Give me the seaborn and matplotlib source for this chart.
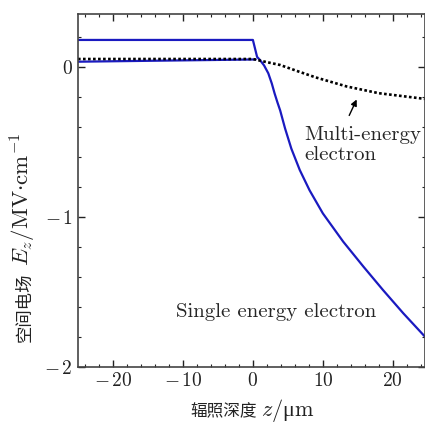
import matplotlib

matplotlib.use("Agg")

import matplotlib.pyplot as plt
import seaborn as sns
import pandas as pd
from matplotlib.ticker import MultipleLocator, FuncFormatter

# -----------------------------
# Plot Style
# -----------------------------
sns.set_theme(style="ticks")
plt.rcParams["font.family"] = ["cmr10", "DejaVu Serif"]
plt.rcParams["mathtext.fontset"] = "cm"
plt.rcParams["axes.unicode_minus"] = True

CJK = ["Noto Sans CJK SC", "DejaVu Serif"]

# -----------------------------
# Data
# -----------------------------
z_single = [-25, 0, 0.6, 1.0, 1.6, 2.2, 2.7, 3.1, 3.5, 3.9, 4.6, 5.5, 6.7,
            8.1, 10.0, 12.9, 15.8, 18.6, 21.5, 24.6]
e_single = [0.18, 0.18, 0.067, 0.047, 0.01, -0.042, -0.11, -0.176, -0.235,
            -0.29, -0.41, -0.545, -0.687, -0.822, -0.976, -1.164, -1.331,
            -1.487, -1.642, -1.798]

z_single_low = [-25, 0.4]
e_single_low = [0.035, 0.05]

z_multi = [-25, 0, 1.7, 3.9, 6.5, 9.0, 13.4, 18.0, 24.6]
e_multi = [0.053, 0.053, 0.035, 0.013, -0.03, -0.07, -0.13, -0.175, -0.213]

single = pd.DataFrame({"z": z_single, "E": e_single})
single_low = pd.DataFrame({"z": z_single_low, "E": e_single_low})
multi = pd.DataFrame({"z": z_multi, "E": e_multi})

xlabel_cn, xlabel_math = "辐照深度", r"$z/$μ$\mathrm{m}$"
ylabel_cn, ylabel_math = "空间电场", r"$E_z/\mathrm{MV{\cdot}cm^{-1}}$"


def tex_num(v, pos):
    if v < 0:
        return r"$-\,%g$" % abs(v)
    return r"$%g$" % abs(v)


# -----------------------------
# Figure
# -----------------------------
W, H = 425, 424
fig = plt.figure(figsize=(W / 100, H / 100), dpi=100)
ax = fig.add_axes([0.1835, 0.1344, 0.8165, 0.8326])

blue = "#1a1ac0"
sns.lineplot(data=single, x="z", y="E", ax=ax, color=blue, lw=1.6,
             sort=False, estimator=None)
sns.lineplot(data=single_low, x="z", y="E", ax=ax, color=blue, lw=1.6,
             sort=False, estimator=None)
sns.lineplot(data=multi, x="z", y="E", ax=ax, color="black", lw=1.9,
             sort=False, estimator=None, linestyle=(0, (1, 0.9)))

ax.set_xlim(-25, 24.6)
ax.set_ylim(-2, 0.353)
ax.xaxis.set_major_locator(MultipleLocator(10))
ax.xaxis.set_minor_locator(MultipleLocator(2))
ax.yaxis.set_major_locator(MultipleLocator(1))
ax.yaxis.set_minor_locator(MultipleLocator(0.2))
ax.xaxis.set_major_formatter(FuncFormatter(tex_num))
ax.yaxis.set_major_formatter(FuncFormatter(tex_num))
ax.tick_params(which="both", direction="in", top=True, right=True,
               labelsize=14, colors="#222222")
ax.tick_params(which="major", length=5, width=1)
ax.tick_params(which="minor", length=2.5, width=0.8)
for s in ax.spines.values():
    s.set_color("#444444")
    s.set_linewidth(1.2)
ax.set_xlabel("")
ax.set_ylabel("")

# axis labels: Chinese part and math part set separately
fig.text(257 / W, 1 - 416 / H, xlabel_cn, family=CJK, fontsize=12,
         ha="right", va="baseline", color="#222222")
fig.text(261 / W, 1 - 416 / H, xlabel_math, fontsize=16,
         family=["Liberation Serif"], ha="left", va="baseline",
         color="#222222")
fig.text(30 / W, 1 - 342 / H, ylabel_cn, family=CJK, fontsize=12.5,
         rotation=90, rotation_mode="anchor", ha="left", va="baseline",
         color="#222222")
fig.text(30 / W, 1 - 266 / H, ylabel_math, fontsize=16.5,
         rotation=90, rotation_mode="anchor", ha="left", va="baseline",
         color="#222222")

ax.annotate("", xy=(15.0, -0.2), xytext=(13.6, -0.34),
            arrowprops=dict(arrowstyle="-|>", color="black", lw=1,
                            mutation_scale=9))
ax.text(7.3, -0.52, "Multi-energy\nelectron", fontsize=15, va="center",
        ha="left", linespacing=1.2)
ax.text(-11, -1.63, "Single energy electron", fontsize=15, va="center",
        ha="left")

fig.savefig("out.png", dpi=100)
plt.close("all")
